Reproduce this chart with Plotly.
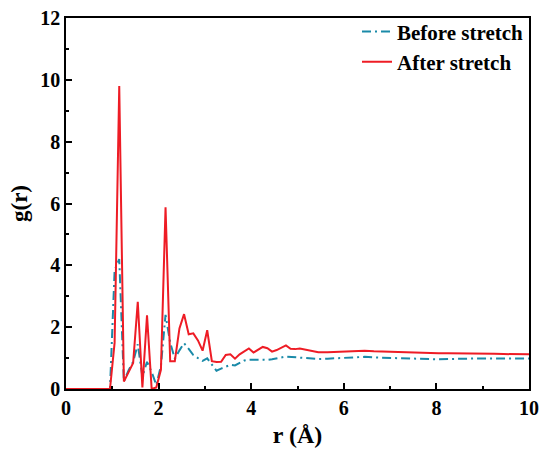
import plotly.graph_objs as go

# r grid (Angstrom)
r = [0.0, 0.95, 1.05, 1.15, 1.25, 1.35, 1.45, 1.55, 1.65, 1.75, 1.85, 1.95,
     2.05, 2.15, 2.25, 2.35, 2.45, 2.55, 2.65, 2.75, 2.85, 2.95,
     3.05, 3.15, 3.25, 3.35, 3.45, 3.55, 3.65, 3.75, 3.85, 3.95,
     4.05, 4.15, 4.25, 4.35, 4.45, 4.55, 4.65, 4.75, 4.85, 4.95,
     5.05, 5.25, 5.45, 5.65, 5.85, 6.05, 6.25, 6.45, 6.65, 6.85,
     7.05, 7.25, 7.45, 7.65, 7.85, 8.05, 8.25, 8.45, 8.65, 8.85,
     9.05, 9.25, 9.45, 9.65, 9.85, 10.0]

gBefore = [0, 0, 3.84, 4.2, 0.24, 0.6, 0.88, 1.45, 0.4, 0.88, 0.55, 0.13,
           0.75, 2.4, 1.5, 0.98, 1.25, 1.48, 1.3, 1.1, 1.0, 0.91,
           0.99, 0.77, 0.59, 0.66, 0.73, 0.78, 0.76, 0.84, 0.92, 0.95,
           0.96, 0.95, 0.95, 0.94, 0.96, 0.98, 1.02, 1.05, 1.04, 1.03,
           1.02, 1.0, 0.97, 0.98, 1.0, 1.01, 1.03, 1.04, 1.02, 1.01,
           1.0, 0.99, 0.97, 0.96, 0.95, 0.96, 0.97, 0.98, 0.99, 0.99,
           0.99, 0.99, 0.99, 0.99, 0.99, 0.99]

gAfter = [0, 0, 1.5, 9.8, 0.24, 0.55, 0.84, 2.82, 0.05, 2.38, 0.0, 0.05,
          0.62, 5.88, 0.9, 0.9, 1.96, 2.42, 1.77, 1.8, 1.57, 1.24,
          1.9, 0.9, 0.87, 0.88, 1.1, 1.12, 0.98, 1.12, 1.23, 1.31,
          1.18, 1.28, 1.36, 1.32, 1.21, 1.26, 1.34, 1.41, 1.3, 1.29,
          1.31, 1.26, 1.19, 1.19, 1.2, 1.21, 1.24, 1.24, 1.22, 1.21,
          1.2, 1.18, 1.17, 1.16, 1.15, 1.16, 1.16, 1.16, 1.15, 1.16,
          1.16, 1.14, 1.13, 1.13, 1.12, 1.12]

fontFamily = "Liberation Serif, Times New Roman, serif"

fig = go.Figure()

fig.add_trace(go.Scatter(x=r, y=gBefore, mode='lines', name='Before stretch',
                         line=dict(color='#1a8aa8', width=2, dash='9px,4px,2px,4px')))
fig.add_trace(go.Scatter(x=r, y=gAfter, mode='lines', name='After stretch',
                         line=dict(color='#ee1c25', width=2)))

axisStyle = dict(
    showline=True, linecolor='black', linewidth=1.5, mirror=True,
    ticks='inside', ticklen=6, tickwidth=1.5, tickcolor='black',
    showgrid=False, zeroline=False, automargin=False,
    tickfont=dict(family=fontFamily, size=20, color='black', weight='bold'),
)
minorTicks = dict(ticks='inside', ticklen=3, dtick=1, tickcolor='black', tickwidth=1.5)

fig.update_xaxes(axisStyle, range=[0, 10], dtick=2, minor=minorTicks,
                 title=dict(text='r (Å)', font=dict(family=fontFamily, size=24, color='black', weight='bold'),
                            standoff=8))
fig.update_yaxes(axisStyle, range=[0, 12], dtick=2, minor=minorTicks,
                 title=dict(text='g(r)', font=dict(family=fontFamily, size=23, color='black', weight='bold'),
                            standoff=6))

fig.update_layout(
    width=550, height=462,
    margin=dict(l=66, r=21, t=17, b=73),
    plot_bgcolor='white', paper_bgcolor='white',
    legend=dict(x=1.0, y=1.015, xanchor='right', yanchor='top',
                bgcolor='rgba(0,0,0,0)', tracegroupgap=0,
                font=dict(family=fontFamily, size=21, color='black', weight='bold')),
)

# drop the page's default body margin so the figure sits at the window corner
fig.write_html("out.html", config={'displayModeBar': False},
               post_script="document.body.style.margin='0';")
